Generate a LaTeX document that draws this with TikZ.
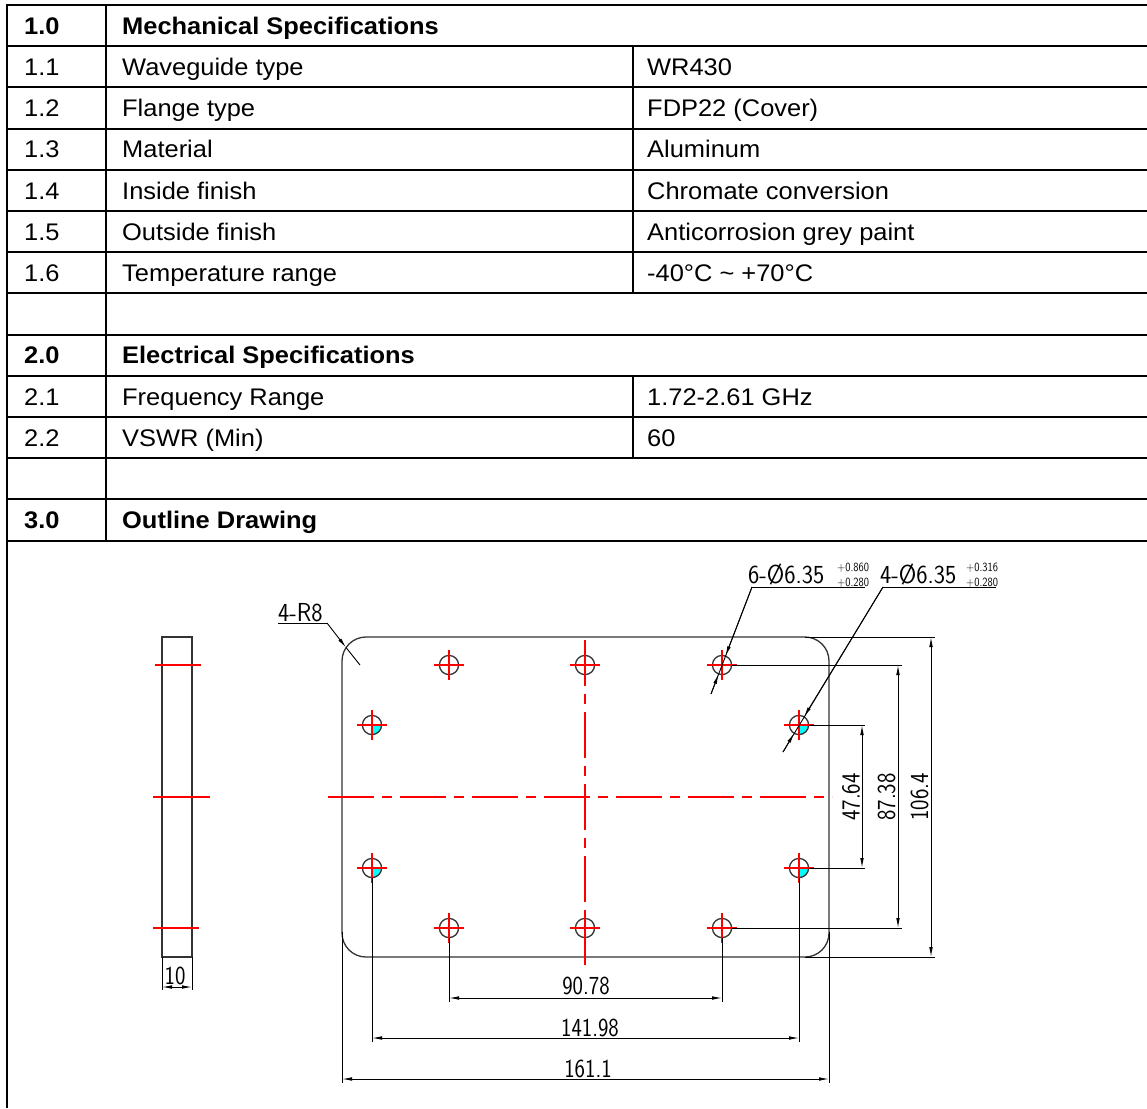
\documentclass[tikz,border=0pt]{standalone}
\usepackage{fontspec}
\setmainfont{Liberation Sans}[FakeStretch=1.06]
\usetikzlibrary{arrows.meta,calc}
\definecolor{holecyan}{RGB}{0,255,255}
\definecolor{axisred}{RGB}{255,0,0}
\newcommand\cadtxt[1]{\scalebox{0.85}[1]{#1}}
\newcommand\leadtxt[1]{\scalebox{0.92}[1]{#1}}

\begin{document}
\begin{tikzpicture}[x=1pt,y=-1pt,
  rule/.style={line width=2pt},
  cell/.style={anchor=base west,inner sep=0pt,font=\fontsize{24}{28}\selectfont},
  head/.style={cell,font=\fontsize{24}{28}\selectfont\bfseries},
  part/.style={line width=1.3pt,black!80},
  axis/.style={line width=1.3pt,axisred},
  centreline/.style={axis,dash pattern=on 46pt off 8pt on 10pt off 8pt},
  dimline/.style={line width=0.9pt},
  dimarr/.style={dimline,{Latex[length=10pt,width=3.6pt]}-{Latex[length=10pt,width=3.6pt]}},
  lead/.style={dimline,-{Latex[length=10pt,width=3.6pt]}},
  cad/.style={inner sep=0pt,font=\fontsize{26}{26}\sffamily},
  leadlabel/.style={cad,anchor=base west},
  tol/.style={inner sep=0pt,anchor=base west,font=\fontsize{12.5}{12.5}\sffamily}]
  \useasboundingbox (0,0) rectangle (1147,1108);

  \draw[rule] (7,5) -- (1147,5);
  \draw[rule] (7,46.2) -- (1147,46.2);
  \draw[rule] (7,87.4) -- (1147,87.4);
  \draw[rule] (7,128.6) -- (1147,128.6);
  \draw[rule] (7,169.8) -- (1147,169.8);
  \draw[rule] (7,211) -- (1147,211);
  \draw[rule] (7,252.2) -- (1147,252.2);
  \draw[rule] (7,293.4) -- (1147,293.4);
  \draw[rule] (7,334.6) -- (1147,334.6);
  \draw[rule] (7,375.8) -- (1147,375.8);
  \draw[rule] (7,417) -- (1147,417);
  \draw[rule] (7,458.2) -- (1147,458.2);
  \draw[rule] (7,499.4) -- (1147,499.4);
  \draw[rule] (7,540.6) -- (1147,540.6);
  \draw[rule] (7,4) -- (7,1108);
  \draw[rule] (106,5) -- (106,540.6);
  \draw[rule] (633,46.2) -- (633,293.4);
  \draw[rule] (633,375.8) -- (633,458.2);

  \node[head] (n10) at (24,34.2) {1.0};
  \node[head] (t10) at (122,34.2) {Mechanical Specifications};
  \node[cell] (n11) at (24,75.4) {1.1};
  \node[cell] (t11) at (122,75.4) {Waveguide type};
  \node[cell] (v11) at (647,75.4) {WR430};
  \node[cell] (n12) at (24,116.6) {1.2};
  \node[cell] (t12) at (122,116.6) {Flange type};
  \node[cell] (v12) at (647,116.6) {FDP22 (Cover)};
  \node[cell] (n13) at (24,157.8) {1.3};
  \node[cell] (t13) at (122,157.8) {Material};
  \node[cell] (v13) at (647,157.8) {Aluminum};
  \node[cell] (n14) at (24,199) {1.4};
  \node[cell] (t14) at (122,199) {Inside finish};
  \node[cell] (v14) at (647,199) {Chromate conversion};
  \node[cell] (n15) at (24,240.2) {1.5};
  \node[cell] (t15) at (122,240.2) {Outside finish};
  \node[cell] (v15) at (647,240.2) {Anticorrosion grey paint};
  \node[cell] (n16) at (24,281.4) {1.6};
  \node[cell] (t16) at (122,281.4) {Temperature range};
  \node[cell] (v16) at (647,281.4) {-40°C {\char"7E} +70°C};
  \node[head] (n20) at (24,363.8) {2.0};
  \node[head] (t20) at (122,363.8) {Electrical Specifications};
  \node[cell] (n21) at (24,405) {2.1};
  \node[cell] (t21) at (122,405) {Frequency Range};
  \node[cell] (v21) at (647,405) {1.72-2.61 GHz};
  \node[cell] (n22) at (24,446.2) {2.2};
  \node[cell] (t22) at (122,446.2) {VSWR (Min)};
  \node[cell] (v22) at (647,446.2) {60};
  \node[head] (n30) at (24,528.6) {3.0};
  \node[head] (t30) at (122,528.6) {Outline Drawing};

  \draw[part] (162,637) rectangle (192,957);
  \draw[axis] (155,665) -- (201,665);
  \draw[axis] (153,797) -- (210,797);
  \draw[axis] (153,928) -- (199,928);
  \draw[dimline] (162,957) -- (162,990);
  \draw[dimline] (192,957) -- (192,990);
  \draw[dimarr] (162,987) -- (192,987);
  \node[cad] (w10) at (175,976) {\cadtxt{10}};

  \draw[part,rounded corners=24pt] (342,637) rectangle (829,957);
  \draw[centreline] (328,797) -- (832,797);
  \draw[centreline] (585,640) -- (585,965);

  \coordinate (h1) at (449,665);
  \coordinate (h2) at (585,665);
  \coordinate (h3) at (722,665);
  \coordinate (h4) at (372,725);
  \coordinate (h5) at (372,868);
  \coordinate (h6) at (799,725);
  \coordinate (h7) at (799,868);
  \coordinate (h8) at (449,928);
  \coordinate (h9) at (585,928);
  \coordinate (h10) at (722,928);
  \foreach \i in {4,...,7}
    \fill[holecyan] (h\i) -- ++(0:9.6pt) arc[start angle=0,end angle=-90,radius=9.6pt] -- cycle;
  \foreach \i in {1,...,10} {
    \draw[part] (h\i) circle (9.6pt);
    \draw[axis] (h\i) ++(-15,0) -- ++(30,0) (h\i) ++(0,-15) -- ++(0,30);
  }

  \draw[dimline] (h8) ++(0,9.6) -- ++(0,64);
  \draw[dimline] (h10) ++(0,9.6) -- ++(0,64);
  \draw[dimarr] (449,998) -- (722,998);
  \node[cad] (d9078) at (586,986) {\cadtxt{90.78}};
  \draw[dimline] (h5) ++(0,9.6) -- ++(0,164);
  \draw[dimline] (h7) ++(0,9.6) -- ++(0,164);
  \draw[dimarr] (372,1038) -- (799,1038);
  \node[cad] (d14198) at (590,1027.5) {\cadtxt{141.98}};
  \draw[dimline] (342,932) -- (342,1083);
  \draw[dimline] (829,932) -- (829,1083);
  \draw[dimarr] (342,1079) -- (829,1079);
  \node[cad] (d1611) at (588,1068.5) {\cadtxt{161.1}};

  \draw[dimline] (h6) ++(9.6,0) -- ++(56,0);
  \draw[dimline] (h7) ++(9.6,0) -- ++(56,0);
  \draw[dimarr] (862,725) -- (862,868);
  \node[cad,rotate=90] (d4764) at (851,797) {\cadtxt{47.64}};
  \draw[dimline] (h3) ++(9.6,0) -- ++(170,0);
  \draw[dimline] (h10) ++(9.6,0) -- ++(170,0);
  \draw[dimarr] (898,665) -- (898,928);
  \node[cad,rotate=90] (d8738) at (886.5,797) {\cadtxt{87.38}};
  \draw[dimline] (805,637) -- (935,637);
  \draw[dimline] (805,957) -- (935,957);
  \draw[dimarr] (931,637) -- (931,957);
  \node[cad,rotate=90] (d1064) at (919.5,797) {\cadtxt{106.4}};

  \node[leadlabel] (r8) at (278,621) {\leadtxt{4-R8}};
  \coordinate (r8a) at (327,623);
  \coordinate (r8tip) at (346,647.5);
  \coordinate (r8b) at (360,665);
  \draw[dimline] (278,623) -- (r8a);
  \draw[lead] (r8a) -- (r8tip);
  \draw[dimline] (r8tip) -- (r8b);

  \node[leadlabel] (dia6) at (748,583) {\leadtxt{6-Ø6.35}};
  \node[tol] (tol6a) at (837,571) {\cadtxt{+0.860}};
  \node[tol] (tol6b) at (837,586) {\cadtxt{+0.280}};
  \coordinate (l6a) at (752,587);
  \coordinate (l6b) at (711,694);
  \draw[dimline] (l6a) -- (865,587);
  \draw[dimline] (l6a) -- (l6b);
  \draw[lead] (l6a) -- ($(h3)!9.6pt!(l6a)$);
  \draw[lead] (l6b) -- ($(h3)!9.6pt!(l6b)$);

  \node[leadlabel] (dia4) at (880,583) {\leadtxt{4-Ø6.35}};
  \node[tol] (tol4a) at (966,571) {\cadtxt{+0.316}};
  \node[tol] (tol4b) at (966,586) {\cadtxt{+0.280}};
  \coordinate (l4a) at (883,587);
  \coordinate (l4b) at (783,752);
  \draw[dimline] (l4a) -- (996,587);
  \draw[dimline] (l4a) -- (l4b);
  \draw[lead] (l4a) -- ($(h6)!9.6pt!(l4a)$);
  \draw[lead] (l4b) -- ($(h6)!9.6pt!(l4b)$);
\end{tikzpicture}
\end{document}
